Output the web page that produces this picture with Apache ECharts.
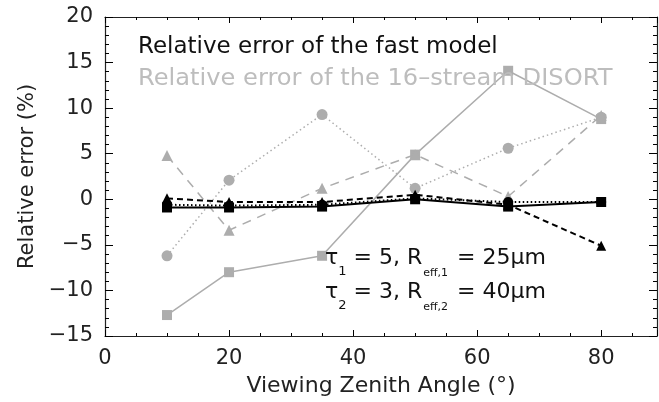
<!DOCTYPE html>
<html>
<head>
<meta charset="utf-8">
<script src="https://cdn.jsdelivr.net/npm/echarts@6/dist/echarts.min.js"></script>
<style>
  html, body { margin: 0; padding: 0; background: #ffffff; }
  #chart { width: 659px; height: 402px; }
</style>
</head>
<body>
<div id="chart"></div>
<script>
// Viewing zenith angles (degrees)
const angles = [10, 20, 35, 50, 65, 80];

// Relative error of the fast model (%)
const fastSolid  = [-0.9, -0.9, -0.8, 0.0, -0.8, -0.3];
const fastDotted = [-0.6, -0.7, -0.6, 0.1, -0.3, -0.3];
const fastDashed = [0.1, -0.3, -0.3, 0.5, -0.6, -5.1];

// Relative error of the 16-stream DISORT (%)
const disortSolid  = [-12.7, -8.0, -6.2, 4.9, 14.1, 8.8];
const disortDotted = [-6.2, 2.1, 9.3, 1.2, 5.6, 9.0];
const disortDashed = [4.8, -3.4, 1.2, 4.9, 0.3, 9.2];

// Axis ranges and ticks
const xRange = [0, 89];
const xStep = 20;
const yRange = [-15, 20];
const yStep = 5;

const legendLines = [
  'Relative error of the fast model',
  'Relative error of the 16\u2013stream DISORT'
];
const xTitle = 'Viewing Zenith Angle (\u00b0)';
const yTitle = 'Relative error (%)';

const FONT = 'DejaVu Sans';
const BLACK = '#000000';
const GREY = '#adadad';

function pairs(values) {
  return angles.map((a, i) => [a, values[i]]);
}

function makeSeries(name, values, color, symbol, lineType, width, size, z) {
  return {
    name: name,
    type: 'line',
    data: pairs(values),
    symbol: symbol,
    symbolSize: size,
    showSymbol: true,
    z: z,
    itemStyle: { color: color, borderWidth: 0 },
    lineStyle: { color: color, width: width, type: lineType },
    emphasis: { disabled: true },
    animation: false
  };
}

const tickLine = { color: '#000', width: 1 };

function xAxisDef(pos, labels) {
  return {
    type: 'value',
    position: pos,
    min: xRange[0], max: xRange[1], interval: xStep,
    axisLine: { show: true, onZero: false, lineStyle: { color: '#222', width: 1.2 } },
    axisTick: { show: true, inside: true, length: 6, lineStyle: tickLine },
    minorTick: { show: true, splitNumber: 4, length: 3, lineStyle: tickLine },
    splitLine: { show: false },
    axisLabel: {
      show: labels, showMaxLabel: false, margin: 12,
      fontFamily: FONT, fontSize: 21, color: '#222'
    },
    name: labels ? xTitle : '',
    nameLocation: 'middle',
    nameGap: 39,
    nameTextStyle: { fontFamily: FONT, fontSize: 22, color: '#222' }
  };
}

function yAxisDef(pos, labels) {
  return {
    type: 'value',
    position: pos,
    min: yRange[0], max: yRange[1], interval: yStep,
    axisLine: { show: true, onZero: false, lineStyle: { color: '#222', width: 1.2 } },
    axisTick: { show: true, inside: true, length: 8, lineStyle: tickLine },
    minorTick: { show: true, splitNumber: 5, length: 4, lineStyle: tickLine },
    splitLine: { show: false },
    axisLabel: {
      show: labels, margin: 12,
      fontFamily: FONT, fontSize: 21, color: '#222',
      formatter: v => (v < 0 ? '\u2212' + Math.abs(v) : String(v))
    },
    name: labels ? yTitle : '',
    nameLocation: 'middle',
    nameGap: 66,
    nameRotate: 90,
    nameTextStyle: { fontFamily: FONT, fontSize: 21, color: '#222' }
  };
}

const chart = echarts.init(document.getElementById('chart'), null, { renderer: 'canvas' });

chart.setOption({
  backgroundColor: '#ffffff',
  animation: false,
  grid: { left: 105, right: 2, top: 17, bottom: 66, containLabel: false, outerBoundsMode: 'none' },
  xAxis: [xAxisDef('bottom', true), xAxisDef('top', false)],
  yAxis: [yAxisDef('left', true), yAxisDef('right', false)],
  series: [
    makeSeries('DISORT solid', disortSolid, GREY, 'rect', 'solid', 1.5, 10, 2),
    makeSeries('DISORT dotted', disortDotted, GREY, 'circle', [1.5, 3], 1.5, 11, 2),
    makeSeries('DISORT dashed', disortDashed, GREY, 'triangle', [9, 7], 1.5, 11, 2),
    makeSeries('Fast solid', fastSolid, BLACK, 'rect', 'solid', 2, 10, 5),
    makeSeries('Fast dotted', fastDotted, BLACK, 'circle', [1.5, 2.5], 2, 10, 5),
    makeSeries('Fast dashed', fastDashed, BLACK, 'triangle', [6, 4], 2, 10, 5)
  ],
  graphic: [
    {
      type: 'text', left: 138, top: 36, z: 10,
      style: { text: legendLines[0], fontFamily: FONT, fontSize: 23, fill: '#111' }
    },
    {
      type: 'text', x: 138, y: 68, z: 10, scaleX: 1.05,
      style: { text: legendLines[1], fontFamily: FONT, fontSize: 23, fill: '#bdbdbd' }
    },
    {
      type: 'text', left: 325, top: 247, z: 10,
      style: {
        text: '{m|\u03c4}{s|1}{m| = 5, R}{e|eff,1}{m| = 25\u03bcm}\n{m|\u03c4}{s|2}{m| = 3, R}{e|eff,2}{m| = 40\u03bcm}',
        fill: '#111',
        rich: {
          m: { fontFamily: FONT, fontSize: 22, lineHeight: 34, verticalAlign: 'top' },
          s: { fontFamily: FONT, fontSize: 13, lineHeight: 13, verticalAlign: 'top', padding: [18, 0, 0, 0] },
          e: { fontFamily: FONT, fontSize: 11, lineHeight: 11, verticalAlign: 'top', padding: [21, 2, 0, 1] }
        }
      }
    }
  ]
});
</script>
</body>
</html>
